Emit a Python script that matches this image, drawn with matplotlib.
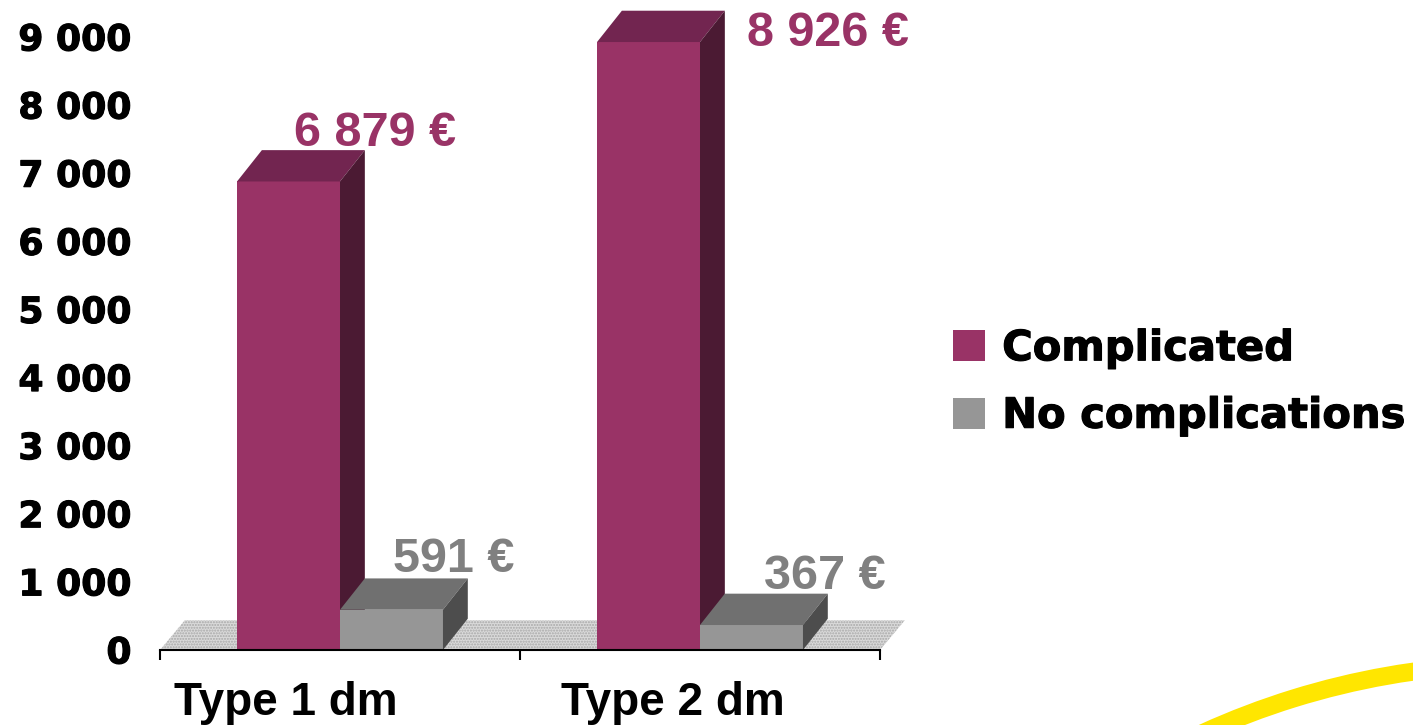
import numpy as np
import matplotlib.pyplot as plt
import matplotlib.patheffects as pe
from matplotlib.patches import Polygon, Arc

plt.rcParams["font.family"] = ["Liberation Sans", "DejaVu Sans"]
plt.rcParams["font.weight"] = "bold"

categories = ["Type 1 dm", "Type 2 dm"]
series_names = ["Complicated", "No complications"]
complicated = [6879, 8926]
no_complications = [591, 367]
y_ticks = [0, 1000, 2000, 3000, 4000, 5000, 6000, 7000, 8000, 9000]

# front / top / side shades per series
COLORS = [
    ("#993366", "#722550", "#4b1a33"),
    ("#969696", "#707070", "#4d4d4d"),
]
LABEL_COLORS = ["#993366", "#808080"]
# label offsets (pixels) from the top centre of each bar front
LABEL_OFFSETS = [
    [(86, 48), (179, 9)],
    [(62, 50), (73, 49)],
]
CAT_SHIFT = [-0.15, -0.075]

BAR_W = 0.286
DX = 0.069      # depth, x data units
DY = 460        # depth, y data units
WIDE = ["DejaVu Sans"]
HEAVY = [pe.withStroke(linewidth=0.8, foreground="black")]


def fmt(v):
    return f"{v:,}".replace(",", " ")


fig = plt.figure(figsize=(14.13, 7.25), dpi=100)
ax = fig.add_axes([160 / 1413, 75 / 725, 720 / 1413, 613 / 725])
ax.set_xlim(0, 2)
ax.set_ylim(0, 9000)

# floor
floor = Polygon([(0, 0), (2, 0), (2 + DX, DY * 0.95), (DX, DY * 0.95)],
                closed=True, facecolor="#dadada", edgecolor="#a8a8a8",
                hatch="......", lw=0, zorder=1, clip_on=False)
ax.add_patch(floor)

x = np.arange(len(categories))
handles = []
for s, values in enumerate([complicated, no_complications]):
    front, top, side = COLORS[s]
    lefts = x + 0.5 - BAR_W + s * BAR_W
    bars = ax.bar(lefts, values, width=BAR_W, align="edge", color=front,
                  lw=0, zorder=3 + s * 3, clip_on=False, label=series_names[s])
    handles.append(bars)
    for i, b in enumerate(bars):
        x0, w, h = b.get_x(), b.get_width(), b.get_height()
        ax.add_patch(Polygon([(x0, h), (x0 + w, h), (x0 + w + DX, h + DY), (x0 + DX, h + DY)],
                             closed=True, facecolor=top, lw=0, zorder=4 + s * 3, clip_on=False))
        ax.add_patch(Polygon([(x0 + w, 0), (x0 + w + DX, DY), (x0 + w + DX, h + DY), (x0 + w, h)],
                             closed=True, facecolor=side, lw=0, zorder=4 + s * 3, clip_on=False))
        ax.annotate(fmt(values[i]) + " €", xy=(x0 + w / 2, h),
                    xytext=LABEL_OFFSETS[s][i], textcoords="offset pixels",
                    ha="center", va="center", fontsize=35, fontweight="bold",
                    color=LABEL_COLORS[s], zorder=10, annotation_clip=False)

# axes styling
for side_name in ["left", "right", "top"]:
    ax.spines[side_name].set_visible(False)
ax.spines["bottom"].set_linewidth(1.5)
ax.spines["bottom"].set_zorder(9)
ax.set_yticks(y_ticks, [fmt(v) for v in y_ticks])
ax.tick_params(axis="y", length=0, pad=20.5, labelsize=26)
ax.set_xticks([0, 1, 2], ["", "", ""])
ax.tick_params(axis="x", which="major", length=7, width=1.5, direction="out")
ax.set_xticks(x + 0.5 + np.array(CAT_SHIFT), categories, minor=True)
ax.tick_params(axis="x", which="minor", length=0, pad=22, labelsize=33)
for t in ax.get_yticklabels():
    t.set_fontweight("bold")
    t.set_family(WIDE)
    t.set_path_effects(HEAVY)
for t in ax.get_xticklabels(minor=True):
    t.set_fontweight("bold")

leg = fig.legend(handles=handles, labels=series_names, loc="center left",
                 bbox_to_anchor=(953 / 1413, 1 - 382 / 725), frameon=False,
                 handlelength=0.77, handleheight=0.77,
                 handletextpad=0.41, labelspacing=0.61, borderpad=0, borderaxespad=0,
                 prop={"weight": "bold", "size": 30, "family": WIDE})
for t in leg.get_texts():
    t.set_path_effects(HEAVY)

# yellow swoosh bottom right
R = 768
fig.add_artist(Arc((1521 / 1413, -707 / 725), 2 * R / 1413, 2 * R / 725,
                   theta1=84, theta2=118, transform=fig.transFigure,
                   color="#ffe600", lw=13))

fig.savefig("out.png", dpi=100)
